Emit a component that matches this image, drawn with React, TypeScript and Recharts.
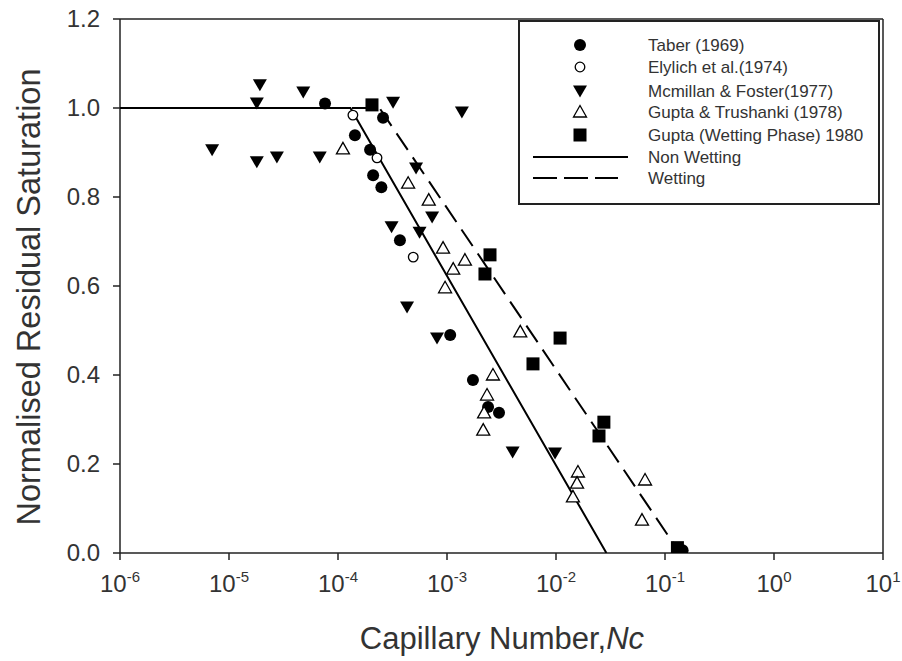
import React from 'react';
import { ScatterChart, Scatter, XAxis, YAxis, Legend, ReferenceLine } from 'recharts';

const FONT = "Arial, 'Liberation Sans', Helvetica, sans-serif";
const TEXT = '#333333';
const AXIS = '#222222';

// Tick values / labels
const xTicks = [1e-6, 1e-5, 1e-4, 1e-3, 1e-2, 1e-1, 1, 10];
const xTickExponents = ['-6', '-5', '-4', '-3', '-2', '-1', '0', '1'];
const yTicks = [0, 0.2, 0.4, 0.6, 0.8, 1.0, 1.2];

const seriesNames = [
  'Taber (1969)',
  'Elylich et al.(1974)',
  'Mcmillan & Foster(1977)',
  'Gupta & Trushanki (1978)',
  'Gupta (Wetting Phase) 1980',
  'Non Wetting',
  'Wetting',
];

// Series values (x = capillary number, y = normalised residual saturation)
const taber = [
  { x: 7.6e-5, y: 1.01 },
  { x: 1.43e-4, y: 0.939 },
  { x: 1.97e-4, y: 0.906 },
  { x: 2.1e-4, y: 0.849 },
  { x: 2.5e-4, y: 0.822 },
  { x: 2.59e-4, y: 0.978 },
  { x: 3.7e-4, y: 0.703 },
  { x: 1.07e-3, y: 0.49 },
  { x: 1.73e-3, y: 0.389 },
  { x: 2.38e-3, y: 0.328 },
  { x: 3.0e-3, y: 0.315 },
  { x: 0.145, y: 0.006 },
];

const elylich = [
  { x: 1.37e-4, y: 0.984 },
  { x: 2.28e-4, y: 0.888 },
  { x: 4.9e-4, y: 0.665 },
];

const mcmillan = [
  { x: 7.0e-6, y: 0.906 },
  { x: 1.92e-5, y: 1.052 },
  { x: 1.8e-5, y: 1.011 },
  { x: 1.8e-5, y: 0.879 },
  { x: 2.75e-5, y: 0.89 },
  { x: 4.8e-5, y: 1.036 },
  { x: 6.8e-5, y: 0.89 },
  { x: 3.2e-4, y: 1.013 },
  { x: 1.37e-3, y: 0.991 },
  { x: 5.2e-4, y: 0.865 },
  { x: 7.3e-4, y: 0.755 },
  { x: 3.1e-4, y: 0.733 },
  { x: 5.6e-4, y: 0.721 },
  { x: 4.3e-4, y: 0.553 },
  { x: 8.1e-4, y: 0.483 },
  { x: 4.0e-3, y: 0.227 },
  { x: 9.8e-3, y: 0.225 },
];

const guptaTrushanki = [
  { x: 1.11e-4, y: 0.908 },
  { x: 4.4e-4, y: 0.831 },
  { x: 6.8e-4, y: 0.793 },
  { x: 9.2e-4, y: 0.685 },
  { x: 1.46e-3, y: 0.658 },
  { x: 1.14e-3, y: 0.638 },
  { x: 9.6e-4, y: 0.596 },
  { x: 4.7e-3, y: 0.497 },
  { x: 2.64e-3, y: 0.4 },
  { x: 2.33e-3, y: 0.355 },
  { x: 2.19e-3, y: 0.315 },
  { x: 2.15e-3, y: 0.276 },
  { x: 0.0159, y: 0.182 },
  { x: 0.0156, y: 0.157 },
  { x: 0.0143, y: 0.126 },
  { x: 0.0656, y: 0.164 },
  { x: 0.0615, y: 0.074 },
];

const guptaWetting = [
  { x: 2.05e-4, y: 1.007 },
  { x: 2.48e-3, y: 0.67 },
  { x: 2.23e-3, y: 0.627 },
  { x: 0.0109, y: 0.483 },
  { x: 6.15e-3, y: 0.425 },
  { x: 0.0275, y: 0.294 },
  { x: 0.0248, y: 0.263 },
  { x: 0.13, y: 0.012 },
];

const nonWettingLine = [
  { x: 1e-6, y: 1.0 },
  { x: 1.3e-4, y: 1.0 },
  { x: 0.029, y: 0.0 },
];

const wettingLine = [
  { x: 1e-6, y: 1.0 },
  { x: 2.4e-4, y: 1.0 },
  { x: 0.137, y: 0.0 },
];

// Marker shapes
const FilledCircle = (p: any) => <circle cx={p.cx} cy={p.cy} r={6} fill="#000" />;
const OpenCircle = (p: any) => (
  <circle cx={p.cx} cy={p.cy} r={4.8} fill="#fff" stroke="#000" strokeWidth={1.3} />
);
const DownTriangle = (p: any) => (
  <path
    d={`M${p.cx - 7},${p.cy - 5.5} L${p.cx + 7},${p.cy - 5.5} L${p.cx},${p.cy + 6.5} Z`}
    fill="#000"
  />
);
const UpTriangle = (p: any) => (
  <path
    d={`M${p.cx - 6.5},${p.cy + 5} L${p.cx + 6.5},${p.cy + 5} L${p.cx},${p.cy - 6.5} Z`}
    fill="#fff"
    stroke="#000"
    strokeWidth={1.3}
  />
);
const FilledSquare = (p: any) => (
  <rect x={p.cx - 6.5} y={p.cy - 6.5} width={13} height={13} fill="#000" />
);
const NoMarker = () => <g />;

const markerShapes = [FilledCircle, OpenCircle, DownTriangle, UpTriangle, FilledSquare];

function XTick(props: any) {
  const { x, y, payload } = props;
  const i = xTicks.findIndex(
    (t) => Math.abs(Math.log10(t) - Math.log10(payload.value)) < 1e-6
  );
  return (
    <text x={x} y={y + 30} textAnchor="middle" fontFamily={FONT} fontSize={24} fill={TEXT}>
      <tspan>10</tspan>
      <tspan fontSize={15} dy={-10}>
        {xTickExponents[i]}
      </tspan>
    </text>
  );
}

function YTick(props: any) {
  const { x, y, payload } = props;
  return (
    <text x={x} y={y} dy={8} textAnchor="end" fontFamily={FONT} fontSize={24} fill={TEXT}>
      {Number(payload.value).toFixed(1)}
    </text>
  );
}

const renderYTitle = () => (
  <text
    transform="translate(40,297) rotate(-90)"
    textAnchor="middle"
    fontFamily={FONT}
    fontSize={32.5}
    fill={TEXT}
  >
    Normalised Residual Saturation
  </text>
);

const renderXTitle = () => (
  <text x={502} y={649} textAnchor="middle" fontFamily={FONT} fontSize={31} fill={TEXT}>
    <tspan>Capillary Number,</tspan>
    <tspan fontStyle="italic">Nc</tspan>
  </text>
);

const legendRows = [25, 47, 71, 92, 115, 137, 158];

const renderLegend = () => (
  <svg width={362} height={185} style={{ display: 'block' }}>
    <rect x={1} y={1} width={360} height={183} fill="#fff" stroke={AXIS} strokeWidth={2} />
    {seriesNames.map((name, i) => {
      const cy = legendRows[i];
      let sym: React.ReactNode = null;
      if (i < 5) {
        const S = markerShapes[i];
        sym = <S cx={62} cy={cy} />;
      } else if (i === 5) {
        sym = <line x1={15} x2={110} y1={cy} y2={cy} stroke="#000" strokeWidth={2} />;
      } else {
        sym = (
          <line x1={15} x2={100} y1={cy} y2={cy} stroke="#000" strokeWidth={2} strokeDasharray="24 7" />
        );
      }
      return (
        <g key={name}>
          {sym}
          <text x={130} y={cy + 6} fontFamily={FONT} fontSize={17} fill={TEXT}>
            {name}
          </text>
        </g>
      );
    })}
  </svg>
);

export default function App() {
  return (
    <div style={{ position: 'absolute', left: 0, top: 0, width: 902, height: 661, overflow: 'hidden' }}>
      <ScatterChart
        width={902}
        height={661}
        margin={{ top: 19, right: 19, left: 60, bottom: 48 }}
      >
        <XAxis
          type="number"
          dataKey="x"
          scale="log"
          domain={[1e-6, 10]}
          allowDataOverflow
          ticks={xTicks}
          tick={<XTick />}
          tickSize={7}
          height={60}
          axisLine={{ stroke: AXIS, strokeWidth: 1.5 }}
          tickLine={{ stroke: AXIS, strokeWidth: 1.5 }}
          label={renderXTitle}
        />
        <YAxis
          type="number"
          dataKey="y"
          domain={[0, 1.2]}
          allowDataOverflow
          ticks={yTicks}
          tick={<YTick />}
          tickSize={7}
          tickMargin={13}
          width={60}
          axisLine={{ stroke: AXIS, strokeWidth: 1.5 }}
          tickLine={{ stroke: AXIS, strokeWidth: 1.5 }}
          label={renderYTitle}
        />
        <ReferenceLine y={1.2} stroke={AXIS} strokeWidth={1.5} />
        <ReferenceLine x={10} stroke={AXIS} strokeWidth={1.5} />
        <Scatter
          name="Non Wetting"
          data={nonWettingLine}
          line={{ stroke: '#000', strokeWidth: 2 }}
          shape={NoMarker}
          isAnimationActive={false}
        />
        <Scatter
          name="Wetting"
          data={wettingLine}
          line={{ stroke: '#000', strokeWidth: 2, strokeDasharray: '20 9' }}
          shape={NoMarker}
          isAnimationActive={false}
        />
        <Scatter name={seriesNames[0]} data={taber} shape={FilledCircle} isAnimationActive={false} />
        <Scatter name={seriesNames[1]} data={elylich} shape={OpenCircle} isAnimationActive={false} />
        <Scatter name={seriesNames[2]} data={mcmillan} shape={DownTriangle} isAnimationActive={false} />
        <Scatter name={seriesNames[3]} data={guptaTrushanki} shape={UpTriangle} isAnimationActive={false} />
        <Scatter name={seriesNames[4]} data={guptaWetting} shape={FilledSquare} isAnimationActive={false} />
        <Legend
          layout="vertical"
          align="center"
          verticalAlign="middle"
          content={renderLegend}
          wrapperStyle={{ position: 'absolute', left: 518, top: 20, width: 362, height: 185 }}
        />
      </ScatterChart>
    </div>
  );
}
